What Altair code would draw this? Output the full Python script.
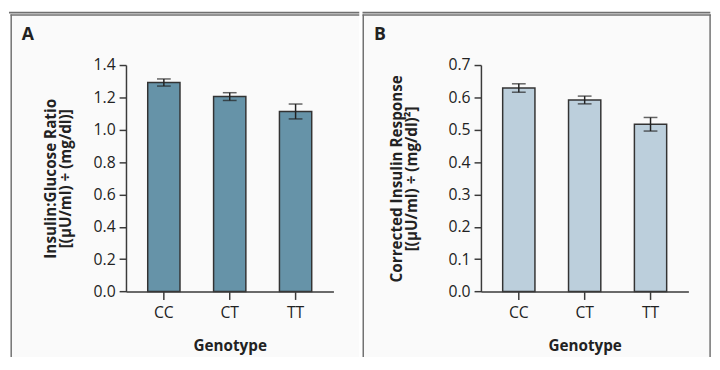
import altair as alt
import pandas as pd

genotypes = ["CC", "CT", "TT"]
ratio_mean = [1.292, 1.205, 1.113]
ratio_err = [0.022, 0.024, 0.046]
resp_mean = [0.629, 0.592, 0.517]
resp_err = [0.013, 0.012, 0.021]

ratio_ticks = [0.0, 0.2, 0.4, 0.6, 0.8, 1.0, 1.2, 1.4]
resp_ticks = [0.0, 0.1, 0.2, 0.3, 0.4, 0.5, 0.6, 0.7]

FONT = "Open Sans"
W = 211
H = 230.4
FRAME = "#707070"
AXIS = "#3a3a3a"
TEXT = "#222222"
BG = "#fafafa"
BOTTOM = 297


def one():
    return alt.Data(values=[{"k": 1}])


def hrule(y, x1, x2, w, color=FRAME):
    return alt.Chart(one()).mark_rule(color=color, strokeWidth=w).encode(
        y=alt.value(y), x=alt.value(x1), x2=alt.value(x2))


def vrule(x, y1, y2, w, color=FRAME):
    return alt.Chart(one()).mark_rule(color=color, strokeWidth=w).encode(
        x=alt.value(x), y=alt.value(y1), y2=alt.value(y2))


def panel(letter, means, errs, ticks, ymax, fill, title_lines, title_x, deco):
    df = pd.DataFrame({
        "g": genotypes,
        "v": means,
        "lo": [m - e for m, e in zip(means, errs)],
        "hi": [m + e for m, e in zip(means, errs)],
    })
    xaxis = alt.Axis(title="Genotype", labelAngle=0, tickSize=8,
                     labelPadding=5, titleX=W / 2, titleY=60,
                     titleBaseline="alphabetic", titleAlign="center", zindex=2)
    xscale = alt.Scale(paddingInner=0.51, paddingOuter=0.33)
    yscale = alt.Scale(domain=[0, ymax], nice=False, zero=True)
    yaxis = alt.Axis(values=ticks, format=".1f", title=title_lines,
                     tickSize=7, labelPadding=4, titleAngle=270,
                     titleX=title_x, titleY=H / 2, labelOverlap=False,
                     titleAlign="center", titleBaseline="alphabetic",
                     titleLineHeight=15, zindex=2)

    def X():
        return alt.X("g:N", sort=genotypes, scale=xscale, axis=xaxis)

    def Y(f):
        return alt.Y(f + ":Q", scale=yscale, axis=yaxis)

    base = alt.Chart(df)
    bars = base.mark_bar(fill=fill, stroke="#333333", strokeWidth=1.5).encode(
        x=X(), y=Y("v"))
    err = base.mark_rule(color="#222222", strokeWidth=1.5).encode(
        x=X(), y=Y("lo"), y2="hi:Q")
    cap_lo = base.mark_tick(color="#222222", thickness=1.5, size=14).encode(
        x=X(), y=Y("lo"))
    cap_hi = base.mark_tick(color="#222222", thickness=1.5, size=14).encode(
        x=X(), y=Y("hi"))
    lx, ly = deco["letter"]
    lab = alt.Chart(one()).mark_text(
        text=letter, font=FONT, fontSize=18, fontWeight="bold", color=TEXT,
        align="left", baseline="alphabetic").encode(x=alt.value(lx), y=alt.value(ly))
    layers = deco["layers"] + [lab, bars, err, cap_lo, cap_hi]
    return alt.layer(*layers).properties(width=W, height=H)


# panel A plot origin on page: (128, 62.3); panel B: (485.7, 62.3)
deco_a = {
    "letter": (-106, -25),
    "layers": [
        alt.Chart(one()).mark_rect(color=BG).encode(
            x=alt.value(-116), x2=alt.value(237.25), y=alt.value(-50.3), y2=alt.value(BOTTOM)),
        hrule(-53.3, -119, 237.25, 2),
        hrule(-50.8, -117.5, 237.25, 1.5),
        vrule(-116.75, -51.5, BOTTOM, 1.5),
    ],
}
deco_b = {
    "letter": (-108.7, -25),
    "layers": [
        alt.Chart(one()).mark_rect(color=BG).encode(
            x=alt.value(-119), x2=alt.value(232.5), y=alt.value(-50.3), y2=alt.value(BOTTOM)),
        hrule(-53.3, -120.45, 233.3, 2),
        hrule(-50.8, -120.45, 233.8, 1.5),
        vrule(-119.7, -51.5, BOTTOM, 1.5),
        vrule(233.05, -51.5, BOTTOM, 1.5),
    ],
}

a = panel("A", ratio_mean, ratio_err, ratio_ticks, 1.4, "#6693a8",
          ["Insulin:Glucose Ratio", "[(\u03bcU/ml) \u00f7 (mg/dl)]"], -71.5, deco_a)
b = panel("B", resp_mean, resp_err, resp_ticks, 0.7, "#bccfdc",
          ["Corrected Insulin Response", "[(\u03bcU/ml) \u00f7 (mg/dl)\u00b2]"], -80.7, deco_b)

chart = alt.hconcat(a, b, spacing=0).properties(
    padding={"left": 0, "top": 0, "right": 0, "bottom": 0},
    background="white",
).configure_view(stroke=None).configure_axis(
    grid=False, domainColor=AXIS, tickColor=AXIS, domainWidth=1.5, tickWidth=1.5,
    labelFont=FONT, labelFontSize=16, labelColor=TEXT,
    titleFont=FONT, titleFontSize=15.5, titleFontWeight="bold", titleColor=TEXT,
).configure_concat(spacing=0)

chart.save("out.html", embed_options={"renderer": "svg", "actions": False})
